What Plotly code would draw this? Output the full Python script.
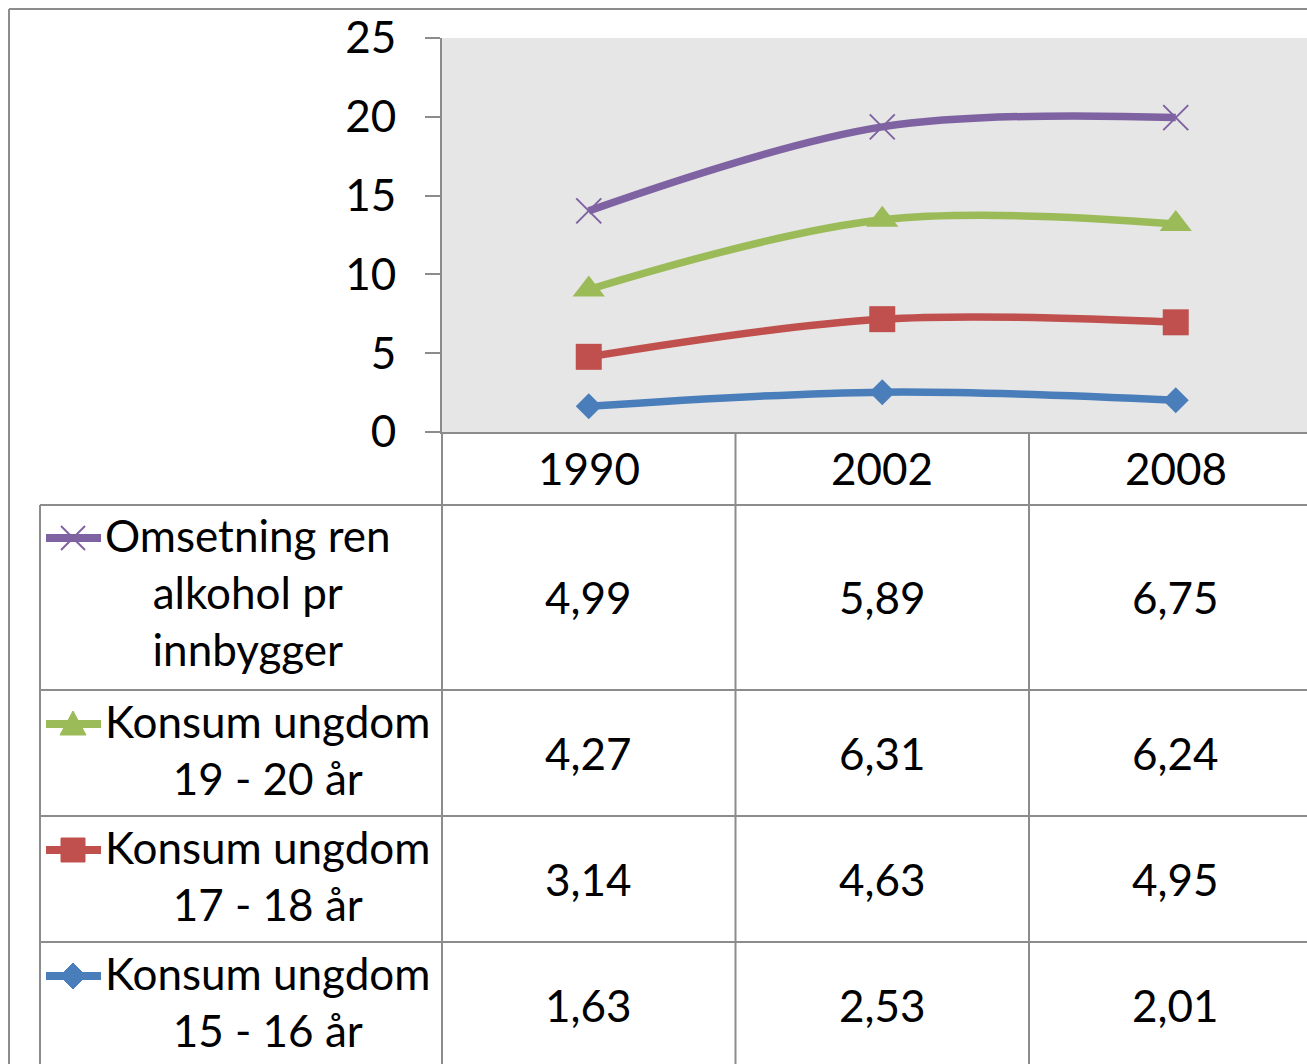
import numpy as np
import plotly.graph_objects as go

years = ["1990", "2002", "2008"]
series_names = [
    "Omsetning ren<br>alkohol pr<br>innbygger",
    "Konsum ungdom<br>19 - 20 år",
    "Konsum ungdom<br>17 - 18 år",
    "Konsum ungdom<br>15 - 16 år",
]
omsetning = [4.99, 5.89, 6.75]
konsum_19_20 = [4.27, 6.31, 6.24]
konsum_17_18 = [3.14, 4.63, 4.95]
konsum_15_16 = [1.63, 2.53, 2.01]
y_ticks = [0, 5, 10, 15, 20, 25]

colors = ["#7F62A1", "#9BBB59", "#C0504D", "#4A7EBB"]
symbols = ["x-thin", "triangle-up", "square", "diamond"]
msizes = [25, 28, 26, 20]

# body margin removed by post_script, so page pixels == figure pixels
OFF = 0
PW, PH = 1307, 1064
W, H = PW - OFF, PH - OFF
L, T, B = 442, 38, 432        # plot area edges (page pixels)
FONT = "Lato"
FS = 44
GRID = "#8C8C8C"

def px2x(p):
    return (p - L) / (PW - L)

def px2y(p):
    return (B - p) / (B - T)

rows_top_down = [omsetning, konsum_19_20, konsum_17_18, konsum_15_16]
bottom_up = [konsum_15_16, konsum_17_18, konsum_19_20, omsetning]
stacked = np.cumsum(np.array(bottom_up), axis=0)

fig = go.Figure()
xs = list(range(len(years)))
for i in range(4):
    idx = 3 - i
    col = colors[idx]
    sym = symbols[idx]
    mk = dict(symbol=sym, size=msizes[idx], color=col)
    if sym == "x-thin":
        mk["line"] = dict(color=col, width=2)
    fig.add_trace(go.Scatter(
        x=xs, y=stacked[i], mode="lines+markers",
        line=dict(color=col, width=7.5, shape="spline", smoothing=1.0),
        marker=mk, showlegend=False, cliponaxis=False, hoverinfo="skip"))

shapes = []

def hline(p, x0p, x1p, color=GRID, width=2):
    shapes.append(dict(type="line", xref="paper", yref="paper",
                       x0=px2x(x0p), x1=px2x(x1p), y0=px2y(p), y1=px2y(p),
                       line=dict(color=color, width=width)))

def vline(p, y0p, y1p):
    shapes.append(dict(type="line", xref="paper", yref="paper",
                       x0=px2x(p), x1=px2x(p), y0=px2y(y0p), y1=px2y(y1p),
                       line=dict(color=GRID, width=2)))

def path(points, color):
    d = "M " + " L ".join(f"{px2x(a)},{px2y(b)}" for a, b in points) + " Z"
    shapes.append(dict(type="path", xref="paper", yref="paper", path=d,
                       fillcolor=color, line=dict(color=color, width=1)))

# outer chart border
hline(9, 9, PW + 5)
vline(9, 9, PH + 5)
# table grid
for p in [505, 690, 816, 942]:
    hline(p, 40, PW + 5)
vline(40, 505, PH + 5)
vline(L, B, PH + 5)
col_w = (1175 - 588) / 2
for k in range(1, len(years)):
    vline(L + k * col_w, B, PH + 5)

annotations = []
for k, yr in enumerate(years):
    annotations.append(dict(x=k, y=px2y(468), xref="x", yref="paper",
                            text=yr, showarrow=False,
                            font=dict(family=FONT, size=FS, color="black"),
                            xanchor="center", yanchor="middle"))

row_centers = [597, 753, 879, 1005]
row_first_line = [538, 724, 850, 976]
for r in range(4):
    vals = rows_top_down[r]
    for k in range(len(years)):
        annotations.append(dict(x=k, y=px2y(row_centers[r]), xref="x", yref="paper",
                                text=f"{vals[k]:.2f}".replace(".", ","), showarrow=False,
                                font=dict(family=FONT, size=FS, color="black"),
                                xanchor="center", yanchor="middle"))
    annotations.append(dict(x=px2x(103), y=px2y(row_first_line[r] - 31),
                            xref="paper", yref="paper",
                            text=series_names[r], showarrow=False, align="center",
                            font=dict(family=FONT, size=FS, color="black"),
                            xanchor="left", yanchor="top"))
    # legend key: line + glyph
    ky = row_first_line[r]
    c = colors[r]
    hline(ky, 46, 101, color=c, width=8)
    cx = 73
    if symbols[r] == "x-thin":
        for s in (1, -1):
            shapes.append(dict(type="line", xref="paper", yref="paper",
                               x0=px2x(cx - 12), x1=px2x(cx + 12),
                               y0=px2y(ky - 12 * s), y1=px2y(ky + 12 * s),
                               line=dict(color=c, width=2)))
    elif symbols[r] == "triangle-up":
        path([(cx, ky - 13), (cx + 13, ky + 11), (cx - 13, ky + 11)], c)
    elif symbols[r] == "square":
        path([(cx - 12, ky - 12), (cx + 12, ky - 12), (cx + 12, ky + 12), (cx - 12, ky + 12)], c)
    else:
        path([(cx, ky - 13), (cx + 13, ky), (cx, ky + 13), (cx - 13, ky)], c)

fig.update_layout(
    width=W, height=H,
    margin=dict(l=L - OFF, r=0, t=T - OFF, b=PH - B, pad=0),
    paper_bgcolor="white", plot_bgcolor="#E6E6E6",
    shapes=shapes, annotations=annotations,
    xaxis=dict(range=[-0.5, -0.5 + (PW - L) / col_w], showticklabels=False,
               showgrid=False, zeroline=False, showline=True, linecolor=GRID,
               linewidth=2, ticks=""),
    yaxis=dict(range=[0, 25], tickvals=y_ticks, ticks="outside", ticklen=15,
               tickcolor=GRID, tickwidth=2, showline=True, linecolor=GRID,
               linewidth=2, showgrid=False, zeroline=False,
               ticklabelstandoff=20,
               tickfont=dict(family=FONT, size=FS, color="black")),
)

fig.write_html(
    "out.html",
    config={"displayModeBar": False},
    post_script="document.body.style.margin='0';document.body.style.overflow='hidden';",
)
